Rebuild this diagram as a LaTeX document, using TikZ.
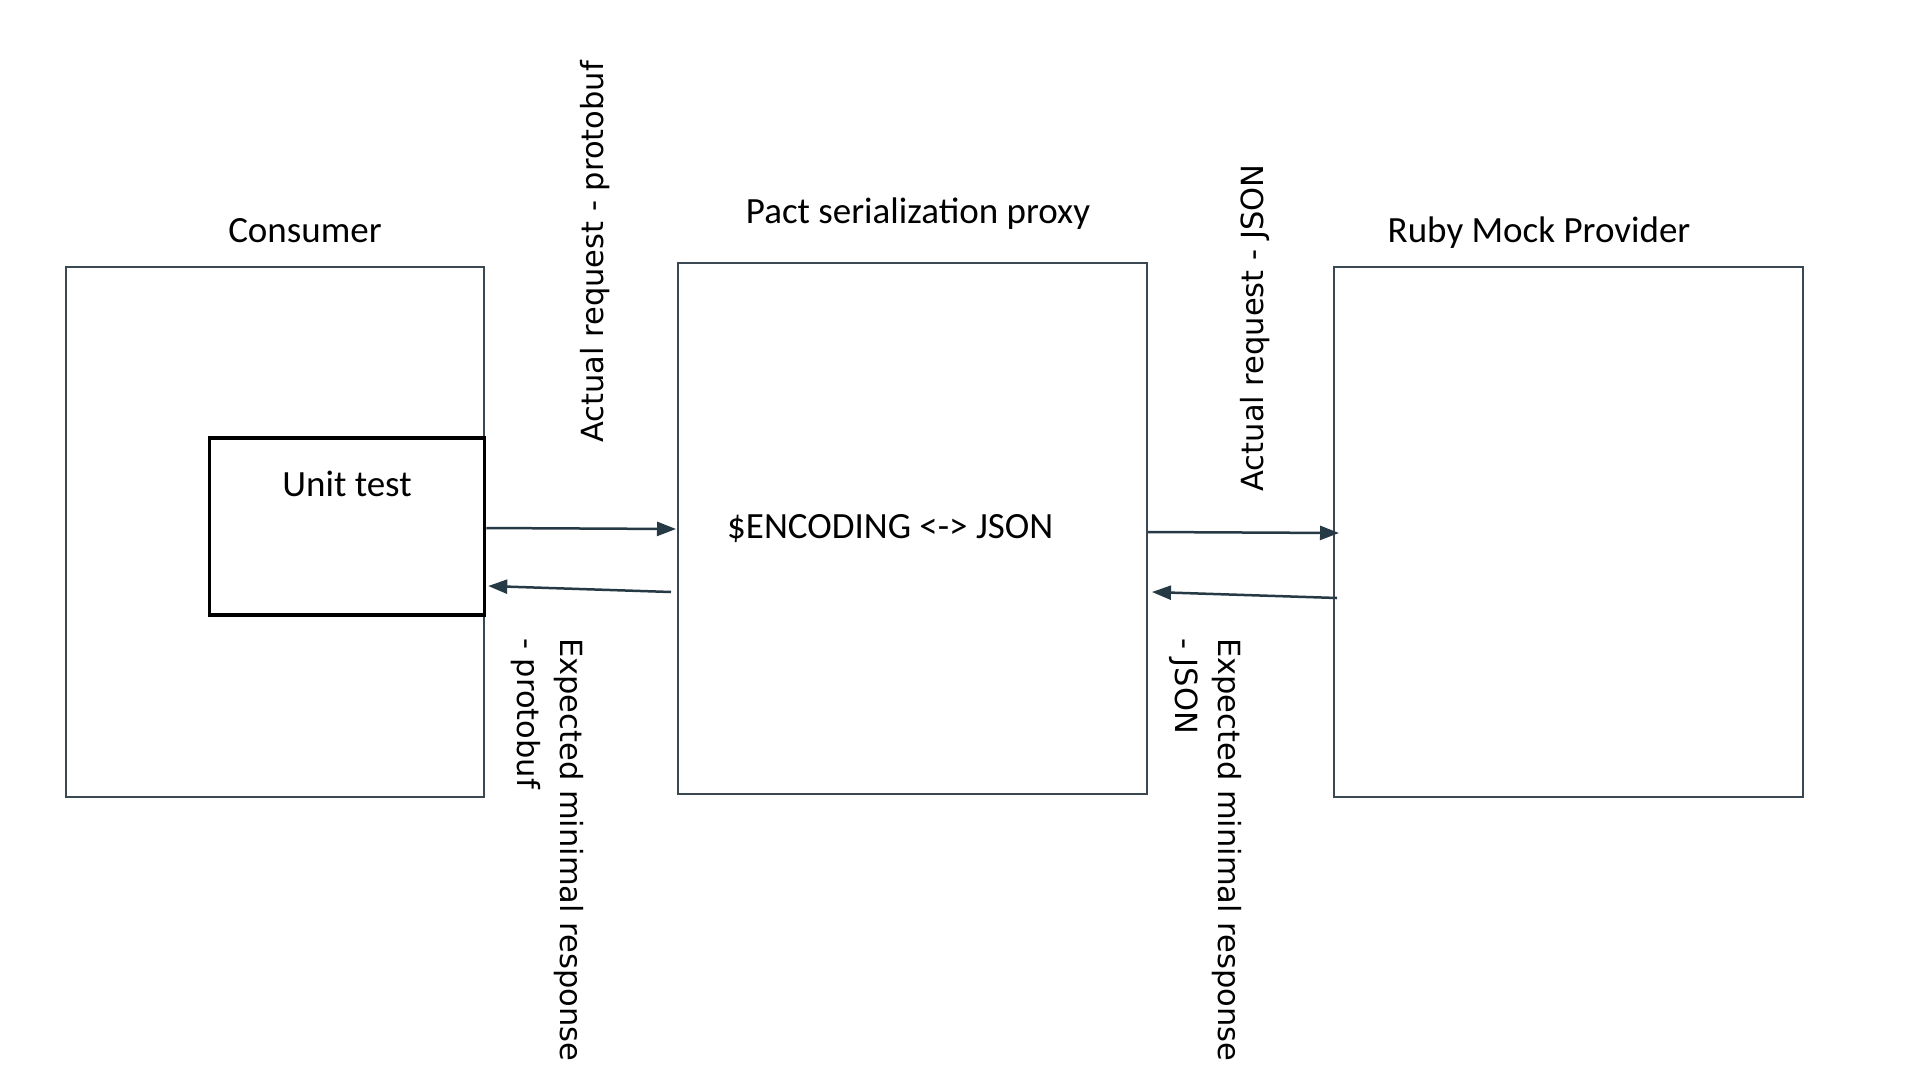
\documentclass[tikz,border=0pt]{standalone}
\usepackage{fontspec}
\setmainfont{Carlito}
\newfontfamily\lblfont{DejaVu Sans}
\usetikzlibrary{arrows.meta}
\definecolor{boxc}{RGB}{58,72,82}
\definecolor{arrc}{RGB}{38,58,70}
\tikzset{
  box/.style={draw=boxc, line width=2pt, minimum width=#1, inner sep=0pt},
  title/.style={anchor=base, inner sep=0pt, font=\fontsize{37}{44}\selectfont},
  arr/.style={draw=arrc, line width=2.5pt, -{Triangle[length=19pt,width=14pt]}},
  vlbl/.style={inner sep=0pt, font=\lblfont\fontsize{30.5}{37}\selectfont}
}
\begin{document}
\begin{tikzpicture}[x=1pt,y=-1pt]
\useasboundingbox[fill=white] (0,0) rectangle (1922,1079);
% boxes
\node[box=418pt, minimum height=530pt] (cons) at (275,532) {};
\node[box=469pt, minimum height=531pt] (proxy) at (912.5,528.5) {};
\node[box=469pt, minimum height=530pt] (ruby) at (1568.5,532) {};
\node[draw=black, line width=3.5pt, minimum width=275pt, minimum height=177pt, inner sep=0pt] (unit) at (347,526.5) {};
% titles
\node[title] (tcons) at (305,242) {Consumer};
\node[title] (tproxy) at (918,223) {Pact serialization proxy};
\node[title] (truby) at (1539,242) {Ruby Mock Provider};
\node[title] (tunit) at (347,496) {Unit test};
\node[title, anchor=base west] (enc) at (727,538) {\$ENCODING <-> JSON};
% arrows
\draw[arr] ([yshift=-1.5pt]unit.east) -- ([xshift=-1pt,yshift=-0.5pt]proxy.west);
\draw[arr] ([xshift=-6pt,yshift=-63.5pt]proxy.west) -- ([xshift=2pt,yshift=-59.5pt]unit.east);
\draw[arr] ([yshift=-3.5pt]proxy.east) -- ([xshift=6pt,yshift=-1pt]ruby.west);
\draw[arr] ([xshift=4pt,yshift=-66pt]ruby.west) -- ([xshift=4pt,yshift=-63.5pt]proxy.east);
% vertical labels
\node[vlbl, rotate=90, anchor=base] (l1) at (603,252) {Actual request - protobuf};
\node[vlbl, rotate=90, anchor=base] (l2) at (1263,328) {Actual request - JSON};
\node[vlbl, rotate=-90, anchor=base west] (l3a) at (560,638) {Expected minimal response};
\node[vlbl, rotate=-90, anchor=base west] (l3b) at (517,638) {- protobuf};
\node[vlbl, rotate=-90, anchor=base west] (l4a) at (1218,638) {Expected minimal response};
\node[vlbl, rotate=-90, anchor=base west] (l4b) at (1175,638) {- JSON};
\end{tikzpicture}
\end{document}
